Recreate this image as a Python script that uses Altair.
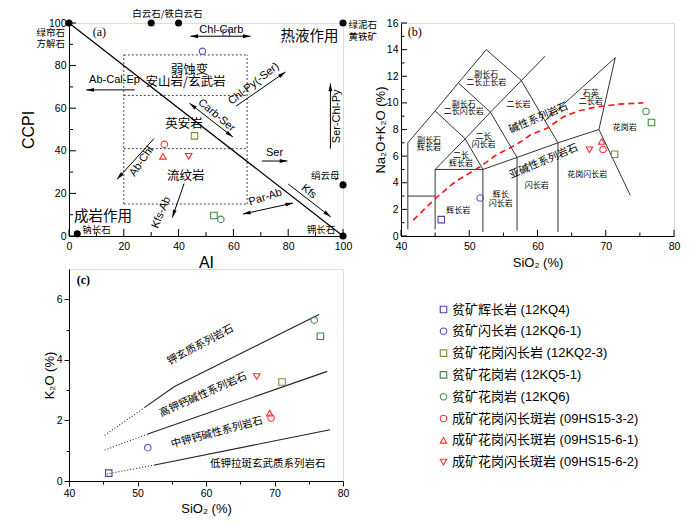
import math
import altair as alt
import pandas as pd

CJK = "Noto Sans CJK SC"
SANS = "Liberation Sans, DejaVu Sans"
MIX = "Liberation Sans, Noto Sans CJK SC"
SERIF = "Liberation Serif"

# ---------------- samples (shared legend) ----------------
samples = ["贫矿辉长岩 (12KQ4)", "贫矿闪长岩 (12KQ6-1)", "贫矿花岗闪长岩 (12KQ2-3)",
           "贫矿花岗岩 (12KQ5-1)", "贫矿花岗岩 (12KQ6)", "成矿花岗闪长斑岩 (09HS15-3-2)",
           "成矿花岗闪长斑岩 (09HS15-6-1)", "成矿花岗闪长斑岩 (09HS15-6-2)"]
sample_colors = ["#4646a6", "#5050b8", "#8a8a3c", "#3d893d", "#4a8a4a", "#ff3030", "#ff3030", "#ff3030"]
sample_shapes = ["square", "circle", "square", "square", "circle", "circle", "triangle-up", "triangle-down"]

# panel (a) alteration box plot
ai_vals = [57.4, 48.7, 45.8, 52.9, 55.4, 34.8, 34.3, 43.7]
ccpi_vals = [95.3, 86.7, 47.0, 9.6, 7.8, 43.0, 37.4, 37.4]
# panel (b) TAS
tas_sio2 = [45.9, 51.6, 71.3, 76.7, 75.9, 69.6, 69.4, 67.6]
tas_alk = [1.23, 2.85, 6.14, 8.53, 9.35, 6.5, 7.1, 6.48]
# panel (c) K2O-SiO2
k_sio2 = [45.8, 51.5, 71.1, 76.7, 75.8, 69.5, 69.3, 67.4]
k_k2o = [0.26, 1.1, 3.27, 4.78, 5.31, 2.08, 2.24, 3.45]

# ---------------- panel (a) reference items ----------------
min_ai = [0, 30, 40, 100, 100, 100, 3]
min_ccpi = [100, 100, 100, 100, 24, 0, 1]

dash_x1 = [20, 20, 20, 65, 20, 20]
dash_y1 = [15, 85, 15, 15, 66, 41]
dash_x2 = [65, 65, 20, 65, 65, 65]
dash_y2 = [15, 85, 85, 85, 66, 41]

a_cjk_text = ["弱蚀变", "安山岩/玄武岩", "英安岩", "流纹岩", "热液作用", "成岩作用",
              "绿帘石", "方解石", "绿泥石", "黄铁矿", "绢云母", "钾长石", "钠长石"]
a_cjk_x = [44, 42.5, 42, 42.6, 87.8, 12.4, -6.7, -6.7, 107.2, 107.2, 93.5, 92, 10.0]
a_cjk_y = [78, 72.4, 52.8, 28, 93.5, 9, 95.5, 90.3, 99.2, 93.5, 28.4, 2.7, 3.0]
a_cjk_size = [12.5, 12.5, 12.5, 12.5, 14.5, 14.5, 9.5, 9.5, 9.5, 9.5, 9.5, 9.5, 9.5]

a_lab_text = ["Chl-Carb", "Ab-Cal-Ep", "Chl-Py(-Ser)", "Carb-Ser", "Ser-Chl-Py", "Ser",
              "Ab-Chl", "Kfs-Ab", "Par-Ab", "Kfs"]
a_lab_x = [55.6, 16.6, 67.4, 53.8, 97.8, 75.0, 26.5, 33.7, 71.7, 87.5]
a_lab_y = [96.7, 73.4, 71.4, 56.6, 56.2, 39.2, 35.0, 11.0, 18.1, 20.8]
a_lab_angle = [0, 0, 322, 40, 270, 0, 305, 293, 342, 39]

arr_x1 = [44.3, 24, 61, 44, 95.4, 70.4, 31, 42, 63.5, 80]
arr_y1 = [93.8, 68.6, 61, 62.3, 41, 35.2, 45.7, 24.6, 10.3, 24.4]
arr_x2 = [66.3, 6.3, 79, 59.8, 95.4, 79.7, 17.5, 37.7, 81.8, 95.5]
arr_y2 = [93.8, 68.6, 77, 46.5, 71.6, 35.2, 26.6, 8.7, 15.5, 9]
arr_both = [True, False, False, True, False, False, False, False, True, False]

# ---------------- panel (b) TAS field boundaries ----------------
tas_lines = [
    [(41, 0.5), (41, 7), (45, 9.4), (48.4, 11.5), (52.5, 14), (57.6, 11.7), (63, 7), (63, 0.3)],
    [(41, 3), (45, 3)],
    [(45, 0.5), (45, 5), (52, 5)],
    [(52, 0.3), (52, 5)],
    [(45, 5), (49.4, 7.3), (53.1, 9.3), (61.1, 13.5)],
    [(45, 9.4), (49.4, 7.3), (52, 5)],
    [(48.4, 11.5), (53.1, 9.3), (57, 5.9)],
    [(52, 5), (57, 5.9), (63, 7), (69, 8), (71.4, 13.4)],
    [(57, 0.4), (57, 5.9)],
    [(69, 8), (73.6, 3.05)],
    [(61.1, 8.65), (71.4, 13.4)],
]
alk_curve_x = [41.8, 45, 48, 51.6, 54, 57, 59, 61.4, 63.8, 66, 68.7, 72, 75.5]
alk_curve_y = [1.2, 2.8, 4.1, 5.2, 6.1, 6.9, 7.6, 8.1, 8.95, 9.4, 9.7, 9.9, 10.0]

b_text = ["副长石", "二长正长岩", "副长石", "二长闪长岩", "二长岩", "石英", "二长岩", "副长石", "辉长岩",
          "二长", "闪长岩", "二长", "辉长岩", "辉长岩", "辉长", "闪长岩", "闪长岩", "花岗闪长岩", "花岗岩"]
b_x = [52.5, 52.5, 49.2, 49.2, 57.2, 67.8, 67.8, 44.1, 44.1, 52.1, 52.1, 48.8, 48.8, 48.4, 54.6, 54.6, 59.9, 67.3, 72.8]
b_y = [12.1, 11.5, 9.86, 9.28, 9.86, 10.66, 10.1, 7.15, 6.6, 7.4, 6.84, 6.0, 5.41, 1.9, 3.05, 2.42, 3.72, 4.57, 8.12]
b_big_text = ["碱性系列岩石", "亚碱性系列岩石"]
b_big_x = [60.15, 60.9]
b_big_y = [8.85, 5.6]
b_big_angle = [337, 337]

# ---------------- panel (c) series boundaries ----------------
c_solid = [
    [(51.05, 2.43), (55.4, 3.12), (76.5, 5.5)],
    [(51.5, 1.55), (77.7, 3.62)],
    [(52.5, 0.53), (78.1, 1.69)],
]
c_dotted = [
    [(45.2, 1.51), (51.05, 2.43)],
    [(45.2, 1.02), (51.5, 1.55)],
    [(45.5, 0.23), (52.5, 0.53)],
]
c_text = ["钾玄质系列岩石", "高钾钙碱性系列岩石", "中钾钙碱性系列岩石", "低钾拉斑玄武质系列岩石"]
c_x = [59.2, 59.6, 61.6, 69.0]
c_y = [4.49, 2.85, 1.6, 0.56]
c_angle = [332, 336, 345, 0]

# ---------------- sizes ----------------
WA, HA = 274, 213
WB, HB = 273, 213
WC, HC = 274, 212


def sc(dom):
    return alt.Scale(domain=dom, nice=False, zero=False)


legend = alt.Legend(title=None, orient="none", legendX=368, legendY=280, labelFont=MIX,
                    labelFontSize=13, labelColor="black", symbolSize=42, symbolStrokeWidth=1.1,
                    rowPadding=7.8, labelOffset=2, padding=0, labelLimit=400)
color_enc = alt.Color("sample:N", scale=alt.Scale(domain=samples, range=sample_colors), legend=legend)
shape_enc = alt.Shape("sample:N", scale=alt.Scale(domain=samples, range=sample_shapes), legend=legend)


def axis(values, title, **kw):
    base = dict(values=values, ticks=False, labelFont=SANS, labelFontSize=10.5, labelColor="black",
                domainColor="black", title=title, titleFont=SANS, titleFontSize=16,
                titleFontWeight="normal", titleColor="black", grid=False, labelFlush=False,
                titleBaseline="middle")
    base.update(kw)
    return alt.Axis(**base)


class Panel:
    def __init__(self, xs, ys, xa, ya, W, H):
        self.xs, self.ys, self.xa, self.ya, self.W, self.H = xs, ys, xa, ya, W, H

    def X(self, f):
        return alt.X(f, type="quantitative", scale=self.xs, axis=self.xa)

    def Y(self, f):
        return alt.Y(f, type="quantitative", scale=self.ys, axis=self.ya)

    def points(self, xv, yv):
        df = pd.DataFrame({"x": xv, "y": yv, "sample": samples})
        return alt.Chart(df).mark_point(filled=False, size=42, strokeWidth=1.1, opacity=1).encode(
            x=self.X("x"), y=self.Y("y"), color=color_enc, shape=shape_enc)

    def ticks(self, vals, ch, length):
        df = pd.DataFrame({"v": vals})
        m = alt.Chart(df).mark_rule(color="black", strokeWidth=1)
        if ch == "x":
            return m.encode(x=self.X("v"), y=alt.value(self.H), y2=alt.value(self.H - length))
        return m.encode(y=self.Y("v"), x=alt.value(0), x2=alt.value(length))

    def texts(self, texts, xv, yv, sizes, angles, font, weight="normal"):
        df = pd.DataFrame({"t": texts, "x": xv, "y": yv, "s": sizes, "a": angles})
        return alt.Chart(df).mark_text(font=font, color="black", align="center", baseline="middle",
                                       fontWeight=weight).encode(
            x=self.X("x"), y=self.Y("y"), text="t:N",
            size=alt.Size("s:Q", scale=None), angle=alt.Angle("a:Q", scale=None))

    def lines(self, lines, **mk):
        rows = [{"seg": i, "o": j, "x": p[0], "y": p[1]} for i, ln in enumerate(lines) for j, p in enumerate(ln)]
        return alt.Chart(pd.DataFrame(rows)).mark_line(**mk).encode(
            x=self.X("x"), y=self.Y("y"), detail="seg:N", order="o:Q")

    def segs(self, x1, y1, x2, y2, **mk):
        df = pd.DataFrame({"x": x1, "y": y1, "x2": x2, "y2": y2})
        return alt.Chart(df).mark_rule(**mk).encode(x=self.X("x"), y=self.Y("y"), x2="x2:Q", y2="y2:Q")


# ======================= panel (a) =======================
PA = Panel(sc([0, 100]), sc([0, 100]),
           axis([0, 20, 40, 60, 80, 100], "AI", labelPadding=5, titleY=26),
           axis([0, 20, 40, 60, 80, 100], "CCPI", labelPadding=3, titleX=-41),
           WA, HA)

kx, ky = WA / 100.0, HA / 100.0
head_rows = []
for x1, y1, x2, y2, both in zip(arr_x1, arr_y1, arr_x2, arr_y2, arr_both):
    ang = math.degrees(math.atan2((x2 - x1) * kx, (y2 - y1) * ky)) % 360
    head_rows.append({"x": x2, "y": y2, "a": ang})
    if both:
        head_rows.append({"x": x1, "y": y1, "a": (ang + 180) % 360})
ARROW = "M0,0L0.55,2.2L-0.55,2.2Z"
a_heads = alt.Chart(pd.DataFrame(head_rows)).mark_point(
    shape=ARROW, filled=True, color="black", size=49, opacity=1, strokeWidth=0).encode(
    x=PA.X("x"), y=PA.Y("y"), angle=alt.Angle("a:Q", scale=None))

a_min = alt.Chart(pd.DataFrame({"x": min_ai, "y": min_ccpi})).mark_circle(
    color="black", size=50, opacity=1).encode(x=PA.X("x"), y=PA.Y("y"))

a_top = alt.Chart(pd.DataFrame({"t": ["白云石/铁白云石"], "x": [35.9], "y": [100]})).mark_text(
    font=CJK, fontSize=9.5, color="black", dy=-9, baseline="middle").encode(
    x=PA.X("x"), y=PA.Y("y"), text="t:N")

panel_a = alt.layer(
    PA.segs(dash_x1, dash_y1, dash_x2, dash_y2, color="#444", strokeDash=[2, 2], strokeWidth=1),
    PA.segs([0], [100], [100], [0], color="black", strokeWidth=1.2),
    PA.segs(arr_x1, arr_y1, arr_x2, arr_y2, color="black", strokeWidth=1),
    a_heads, a_min,
    PA.texts(a_cjk_text, a_cjk_x, a_cjk_y, a_cjk_size, [0] * len(a_cjk_text), CJK),
    PA.texts(a_lab_text, a_lab_x, a_lab_y, [11] * len(a_lab_text), a_lab_angle, SANS),
    a_top,
    PA.texts(["(a)"], [11.1], [95.9], [12], [0], SERIF),
    PA.ticks([0, 20, 40, 60, 80, 100], "x", 7), PA.ticks([10, 30, 50, 70, 90], "x", 4),
    PA.ticks([0, 20, 40, 60, 80, 100], "y", 7), PA.ticks([10, 30, 50, 70, 90], "y", 4),
    PA.points(ai_vals, ccpi_vals),
).properties(width=WA, height=HA)

# ======================= panel (b) =======================
PB = Panel(sc([40, 80]), sc([0, 16]),
           axis([40, 50, 60, 70, 80], "SiO₂ (%)", labelPadding=5, titleY=26, titleFontSize=13),
           axis(list(range(0, 17, 2)), "Na₂O+K₂O (%)", labelPadding=3, titleX=-21, titleFontSize=13),
           WB, HB)
curve_df = pd.DataFrame({"x": alk_curve_x, "y": alk_curve_y, "o": list(range(len(alk_curve_x)))})
b_curve = alt.Chart(curve_df).mark_line(color="#ff1a1a", strokeDash=[6, 4], strokeWidth=1.7).encode(
    x=PB.X("x"), y=PB.Y("y"), order="o:Q")

panel_b = alt.layer(
    PB.lines(tas_lines, color="#333", strokeWidth=1),
    b_curve,
    PB.texts(b_text, b_x, b_y, [8] * len(b_text), [0] * len(b_text), CJK),
    PB.texts(b_big_text, b_big_x, b_big_y, [10.5, 10.5], b_big_angle, CJK),
    PB.texts(["(b)"], [42.0], [15.3], [12], [0], SERIF),
    PB.ticks([40, 50, 60, 70, 80], "x", 6), PB.ticks([45, 55, 65, 75], "x", 3.5),
    PB.ticks(list(range(0, 17, 2)), "y", 6), PB.ticks(list(range(1, 16, 2)), "y", 3.5),
    PB.points(tas_sio2, tas_alk),
).properties(width=WB, height=HB)

# ======================= panel (c) =======================
PC = Panel(sc([40, 80]), sc([0, 7]),
           axis([40, 45, 50, 55, 60, 65, 70, 75, 80], "SiO₂ (%)", ticks=True, tickColor="black",
                tickSize={"condition": {"test": "datum.value % 10 != 0", "value": 3}, "value": 5},
                labelExpr="datum.value % 10 == 0 ? datum.label : ''",
                labelPadding=2, titleY=27, titleFontSize=13),
           axis([0, 1, 2, 3, 4, 5, 6], "K₂O (%)", ticks=True, tickColor="black",
                tickSize={"condition": {"test": "datum.value % 2 != 0", "value": 3}, "value": 5},
                labelExpr="datum.value % 2 == 0 ? datum.label : ''",
                labelPadding=2, titleX=-20, titleFontSize=13),
           WC, HC)

panel_c = alt.layer(
    PC.lines(c_solid, color="#222", strokeWidth=1.1),
    PC.lines(c_dotted, color="#222", strokeWidth=1.1, strokeDash=[1, 2]),
    PC.texts(c_text, c_x, c_y, [10.5] * 4, c_angle, CJK),
    PC.texts(["(c)"], [42.1], [6.65], [12], [0], SERIF, weight="bold"),
    PC.points(k_sio2, k_k2o),
).properties(width=WC, height=HC)

chart = alt.concat(
    panel_a, panel_b, panel_c, columns=2, spacing={"row": 33, "column": 58}, bounds="flush"
).resolve_scale(x="independent", y="independent").properties(
    padding={"left": 11, "top": 0, "right": 2, "bottom": 0}
).configure_view(stroke="#222", strokeWidth=1).configure(background="white")

chart.save("out.html", embed_options={"renderer": "svg", "actions": False})
